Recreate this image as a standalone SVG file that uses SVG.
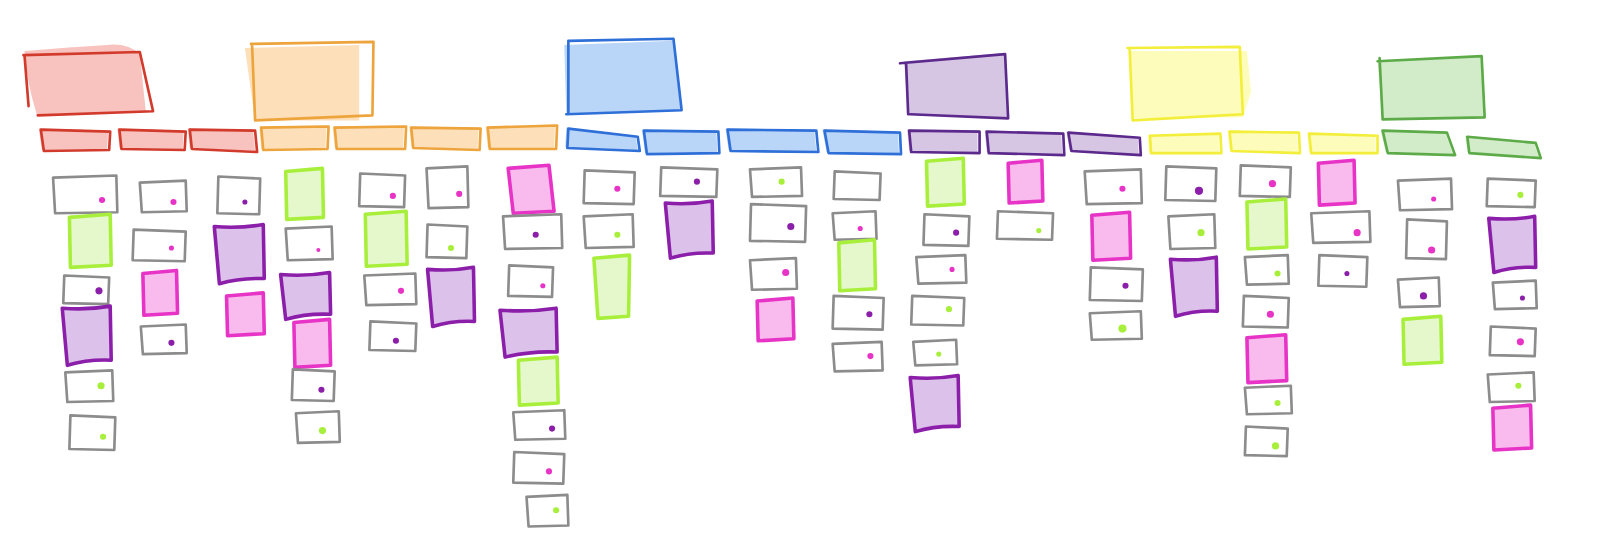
<svg xmlns="http://www.w3.org/2000/svg" width="1600" height="555" viewBox="0 0 1600 555">
<style>
.s{fill:none;stroke-width:2.6;stroke-linejoin:round;stroke-linecap:round}
.hr{stroke:#d23b2c}.fr{fill:#f8c3be}
.ho{stroke:#eda43c}.fo{fill:#fde0ba}
.hb{stroke:#2f6fd8}.fb{fill:#b9d5f8}
.hp{stroke:#5c2a8c}.fp{fill:#d6c5e3}
.hy{stroke:#f3ee3a}.fy{fill:#fdfcba}
.hg{stroke:#5cab48}.fg{fill:#d2ebc8}
.g path{fill:#fff;stroke:#8c8c8c;stroke-width:2.6;stroke-linejoin:round;stroke-linecap:round}
.l path{fill:#e5f8cc;stroke:#a8ef3c;stroke-width:3.5;stroke-linejoin:round;stroke-linecap:round}
.p path{fill:#dcc1ea;stroke:#8c1fa9;stroke-width:3.5;stroke-linejoin:round;stroke-linecap:round}
.k path{fill:#f9bbee;stroke:#e733c6;stroke-width:3.5;stroke-linejoin:round;stroke-linecap:round}
.dk{fill:#e733c6}.dp{fill:#8c1fa9}.dg{fill:#a8ef3c}
</style>
<rect width="1600" height="555" fill="#fff"/>
<g id="diagram" transform="scale(1.0204)">
<g id="connectors"/>
<!-- headers -->
<g id="h-red">
<path class="fr" d="M24,50 Q70,46 105,44 Q125,42 137,53 L143,110 L36,112 Q26,80 24,50 Z"/>
<path class="s hr" d="M23,54 L137,51 L150,109 L37,113 M24,54 L28,104"/>
<path class="fr" transform="translate(-2,-1)" d="M40,127 L108,129 L107,147 L43,148 Z M117,127 L182,129 L181,147 L119,146 Z M186,127 L250,128 L252,149 L188,146 Z"/>
<path class="s hr" d="M40,127 L108,129 L107,147 L43,148 Z M117,127 L182,129 L181,147 L119,146 Z M186,127 L250,128 L252,149 L188,146 Z"/>
</g>
<g id="h-orange">
<path class="fo" d="M240,47 L352,44 L352,118 L250,118 Z"/>
<path class="s ho" d="M246,43 L366,41 L365,113 L250,118 L247,43"/>
<path class="fo" transform="translate(-2,-1)" d="M256,125 L322,124 L321,146 L258,147 Z M328,125 L398,124 L397,146 L330,146 Z M403,125 L471,126 L470,147 L405,145 Z M478,125 L546,123 L545,146 L480,146 Z"/>
<path class="s ho" d="M256,125 L322,124 L321,146 L258,147 Z M328,125 L398,124 L397,146 L330,146 Z M403,125 L471,126 L470,147 L405,145 Z M478,125 L546,123 L545,146 L480,146 Z"/>
</g>
<g id="h-blue">
<path class="fb" d="M553,44 L660,40 L667,108 L555,112 Z"/>
<path class="s hb" d="M557,40 L660,38 L668,108 L555,112 M557,40 L557,110"/>
<path class="fb" transform="translate(-2,-1)" d="M557,126 L625,134 L627,148 L556,145 Z M631,128 L704,129 L705,150 L634,151 Z M713,127 L800,128 L802,149 L716,148 Z M808,128 L882,130 L883,151 L812,150 Z"/>
<path class="s hb" d="M557,126 L625,134 L627,148 L556,145 Z M631,128 L704,129 L705,150 L634,151 Z M713,127 L800,128 L802,149 L716,148 Z M808,128 L882,130 L883,151 L812,150 Z"/>
</g>
<g id="h-purple">
<path class="fp" d="M886,60 L985,52 L988,115 L890,112 Z"/>
<path class="s hp" d="M882,62 L985,53 L988,116 L892,112 M888,62 L890,112"/>
<path class="fp" transform="translate(-2,-1)" d="M891,128 L960,129 L960,150 L893,149 Z M967,129 L1042,131 L1043,152 L969,150 Z M1047,130 L1117,135 L1118,152 L1050,148 Z"/>
<path class="s hp" d="M891,128 L960,129 L960,150 L893,149 Z M967,129 L1042,131 L1043,152 L969,150 Z M1047,130 L1117,135 L1118,152 L1050,148 Z"/>
</g>
<g id="h-yellow">
<path class="fy" d="M1108,50 L1222,50 L1226,90 L1218,115 L1110,116 Z"/>
<path class="s hy" d="M1105,47 L1215,46 L1218,112 L1110,118 M1107,47 L1110,117"/>
<path class="fy" transform="translate(-2,-1)" d="M1127,133 L1196,131 L1197,150 L1128,150 Z M1205,129 L1273,130 L1274,150 L1207,148 Z M1283,131 L1350,133 L1350,150 L1285,150 Z"/>
<path class="s hy" d="M1127,133 L1196,131 L1197,150 L1128,150 Z M1205,129 L1273,130 L1274,150 L1207,148 Z M1283,131 L1350,133 L1350,150 L1285,150 Z"/>
</g>
<g id="h-green">
<path class="fg" d="M1350,60 L1452,55 L1456,115 L1355,117 Z"/>
<path class="s hg" d="M1350,60 L1452,55 L1455,115 L1355,117 M1352,57 L1355,117"/>
<path class="fg" transform="translate(-2,-1)" d="M1355,128 L1418,130 L1426,152 L1360,150 Z M1438,134 L1505,140 L1510,155 L1440,150 Z"/>
<path class="s hg" d="M1355,128 L1418,130 L1426,152 L1360,150 Z M1438,134 L1505,140 L1510,155 L1440,150 Z"/>
</g>
<!-- col 1 -->
<g id="c1a" class="g"><path transform="translate(52,172)" d="M0,2 L62,0 L63,36 L2,37 Z"/><circle class="dk" cx="100" cy="196" r="3"/></g>
<g id="c1b" class="l"><path transform="translate(68,210)" d="M0,3 L40,0 L41,50 L1,52 Z"/></g>
<g id="c1c" class="g"><path transform="translate(62,270)" d="M1,0 L45,2 L44,28 L0,27 Z"/><circle class="dp" cx="97" cy="285" r="3.5"/></g>
<g id="c1d" class="p"><path transform="translate(64,300)" d="M-3,2 Q22,4 44,0 L45,53 Q22,52 2,58 Z"/></g>
<g id="c1e" class="g"><path transform="translate(64,363)" d="M0,2 L46,0 L47,30 L2,31 Z"/><circle class="dg" cx="99" cy="378" r="3.5"/></g>
<g id="c1f" class="g"><path transform="translate(68,407)" d="M1,0 L45,2 L44,34 L0,33 Z"/><circle class="dg" cx="101" cy="428" r="3"/></g>
<!-- col 2 -->
<g id="c2a" class="g"><path transform="translate(137,177)" d="M0,2 L45,0 L46,30 L2,31 Z"/><circle class="dk" cx="170" cy="198" r="3"/></g>
<g id="c2b" class="g"><path transform="translate(130,225)" d="M1,0 L52,2 L51,31 L0,30 Z"/><circle class="dk" cx="168" cy="243" r="2.5"/></g>
<g id="c2c" class="k"><path transform="translate(140,265)" d="M0,3 L33,0 L34,42 L1,44 Z"/></g>
<g id="c2d" class="g"><path transform="translate(138,318)" d="M0,2 L44,0 L45,28 L2,29 Z"/><circle class="dp" cx="168" cy="336" r="3"/></g>
<!-- col 3 -->
<g id="c3a" class="g"><path transform="translate(213,173)" d="M1,0 L42,2 L41,37 L0,36 Z"/><circle class="dp" cx="240" cy="198" r="2.5"/></g>
<g id="c3b" class="p"><path transform="translate(213,220)" d="M-3,2 Q22,4 45,0 L46,53 Q22,52 2,58 Z"/></g>
<g id="c3c" class="k"><path transform="translate(222,287)" d="M0,3 L36,0 L37,40 L1,42 Z"/></g>
<!-- col 4 -->
<g id="c4a" class="l"><path transform="translate(280,165)" d="M0,3 L36,0 L37,48 L1,50 Z"/></g>
<g id="c4b" class="g"><path transform="translate(280,222)" d="M0,2 L45,0 L46,32 L2,33 Z"/><circle class="dk" cx="312" cy="245" r="2"/></g>
<g id="c4c" class="p"><path transform="translate(278,267)" d="M-3,2 Q22,4 45,0 L46,41 Q22,40 2,46 Z"/></g>
<g id="c4d" class="k"><path transform="translate(288,313)" d="M0,3 L35,0 L36,45 L1,47 Z"/></g>
<g id="c4e" class="g"><path transform="translate(286,362)" d="M1,0 L42,2 L41,31 L0,30 Z"/><circle class="dp" cx="315" cy="382" r="3"/></g>
<g id="c4f" class="g"><path transform="translate(290,403)" d="M0,2 L42,0 L43,30 L2,31 Z"/><circle class="dg" cx="316" cy="422" r="3.5"/></g>
<!-- col 5 -->
<g id="c5a" class="g"><path transform="translate(352,170)" d="M1,0 L45,2 L44,33 L0,32 Z"/><circle class="dk" cx="385" cy="192" r="3"/></g>
<g id="c5b" class="l"><path transform="translate(358,207)" d="M0,3 L40,0 L41,52 L1,54 Z"/></g>
<g id="c5c" class="g"><path transform="translate(357,268)" d="M0,2 L50,0 L51,30 L2,31 Z"/><circle class="dk" cx="393" cy="285" r="3"/></g>
<g id="c5d" class="g"><path transform="translate(362,315)" d="M1,0 L46,2 L45,29 L0,28 Z"/><circle class="dp" cx="388" cy="334" r="3"/></g>
<!-- col 6 -->
<g id="c6a" class="g"><path transform="translate(418,163)" d="M0,2 L40,0 L41,40 L2,41 Z"/><circle class="dk" cx="450" cy="190" r="3"/></g>
<g id="c6b" class="g"><path transform="translate(418,220)" d="M1,0 L40,2 L39,33 L0,32 Z"/><circle class="dg" cx="442" cy="243" r="3"/></g>
<g id="c6c" class="p"><path transform="translate(422,262)" d="M-3,2 Q21,4 42,0 L43,53 Q21,52 2,58 Z"/></g>
<!-- col 7 -->
<g id="c7a" class="k"><path transform="translate(498,162)" d="M0,3 L40,0 L45,45 L5,47 Z"/></g>
<g id="c7b" class="g"><path transform="translate(493,210)" d="M0,2 L57,0 L58,33 L2,34 Z"/><circle class="dp" cx="525" cy="230" r="3"/></g>
<g id="c7c" class="g"><path transform="translate(498,260)" d="M1,0 L44,2 L43,31 L0,30 Z"/><circle class="dk" cx="532" cy="280" r="2.5"/></g>
<g id="c7d" class="p"><path transform="translate(493,302)" d="M-3,2 Q26,4 52,0 L53,43 Q26,42 2,48 Z"/></g>
<g id="c7e" class="l"><path transform="translate(508,350)" d="M0,3 L38,0 L39,45 L1,47 Z"/></g>
<g id="c7f" class="g"><path transform="translate(503,402)" d="M0,2 L50,0 L51,28 L2,29 Z"/><circle class="dp" cx="541" cy="420" r="3"/></g>
<g id="c7g" class="g"><path transform="translate(503,443)" d="M1,0 L50,2 L49,31 L0,30 Z"/><circle class="dk" cx="538" cy="462" r="3"/></g>
<g id="c7h" class="g"><path transform="translate(516,485)" d="M0,2 L40,0 L41,30 L2,31 Z"/><circle class="dg" cx="545" cy="500" r="3"/></g>
<!-- col 8 -->
<g id="c8a" class="g"><path transform="translate(572,167)" d="M1,0 L50,2 L49,33 L0,32 Z"/><circle class="dk" cx="605" cy="185" r="3"/></g>
<g id="c8b" class="g"><path transform="translate(572,210)" d="M0,2 L48,0 L49,32 L2,33 Z"/><circle class="dg" cx="605" cy="230" r="3"/></g>
<g id="c8c" class="l"><path transform="translate(582,250)" d="M0,3 L35,0 L34,60 L4,62 Z"/></g>
<!-- col 9 -->
<g id="c9a" class="g"><path transform="translate(647,164)" d="M1,0 L56,2 L55,29 L0,28 Z"/><circle class="dp" cx="683" cy="178" r="3"/></g>
<g id="c9b" class="p"><path transform="translate(655,197)" d="M-3,2 Q21,4 43,0 L44,51 Q21,50 2,56 Z"/></g>
<!-- col 10 -->
<g id="c10a" class="g"><path transform="translate(735,164)" d="M0,2 L50,0 L51,28 L2,29 Z"/><circle class="dg" cx="766" cy="178" r="3"/></g>
<g id="c10b" class="g"><path transform="translate(735,200)" d="M1,0 L55,2 L54,37 L0,36 Z"/><circle class="dp" cx="775" cy="222" r="3.5"/></g>
<g id="c10c" class="g"><path transform="translate(735,253)" d="M0,2 L45,0 L46,30 L2,31 Z"/><circle class="dk" cx="770" cy="267" r="3.5"/></g>
<g id="c10d" class="k"><path transform="translate(742,292)" d="M0,3 L35,0 L36,40 L1,42 Z"/></g>
<!-- col 11 -->
<g id="c11a" class="g"><path transform="translate(817,168)" d="M1,0 L46,2 L45,28 L0,27 Z"/></g>
<g id="c11b" class="g"><path transform="translate(816,207)" d="M0,2 L42,0 L43,27 L2,28 Z"/><circle class="dk" cx="843" cy="224" r="2.5"/></g>
<g id="c11c" class="l"><path transform="translate(822,235)" d="M0,3 L35,0 L36,48 L1,50 Z"/></g>
<g id="c11d" class="g"><path transform="translate(816,290)" d="M1,0 L50,2 L49,33 L0,32 Z"/><circle class="dp" cx="852" cy="308" r="3"/></g>
<g id="c11e" class="g"><path transform="translate(816,335)" d="M0,2 L48,0 L49,28 L2,29 Z"/><circle class="dk" cx="853" cy="349" r="3"/></g>
<!-- col 12 -->
<g id="c12a" class="l"><path transform="translate(908,155)" d="M0,3 L36,0 L37,45 L1,47 Z"/></g>
<g id="c12b" class="g"><path transform="translate(905,210)" d="M1,0 L45,2 L44,31 L0,30 Z"/><circle class="dp" cx="937" cy="228" r="3"/></g>
<g id="c12c" class="g"><path transform="translate(898,250)" d="M0,2 L48,0 L49,27 L2,28 Z"/><circle class="dk" cx="933" cy="264" r="2.5"/></g>
<g id="c12d" class="g"><path transform="translate(893,290)" d="M1,0 L52,2 L51,29 L0,28 Z"/><circle class="dg" cx="930" cy="303" r="3"/></g>
<g id="c12e" class="g"><path transform="translate(895,333)" d="M0,2 L42,0 L43,24 L2,25 Z"/><circle class="dg" cx="920" cy="347" r="2.5"/></g>
<g id="c12f" class="p"><path transform="translate(895,368)" d="M-3,2 Q22,4 44,0 L45,50 Q22,49 2,55 Z"/></g>
<!-- col 13 -->
<g id="c13a" class="k"><path transform="translate(988,157)" d="M0,3 L33,0 L34,40 L1,42 Z"/></g>
<g id="c13b" class="g"><path transform="translate(977,207)" d="M1,0 L55,2 L54,28 L0,27 Z"/><circle class="dg" cx="1018" cy="226" r="2.5"/></g>
<!-- col 14 -->
<g id="c14a" class="g"><path transform="translate(1063,166)" d="M0,2 L55,0 L56,33 L2,34 Z"/><circle class="dk" cx="1100" cy="185" r="3"/></g>
<g id="c14b" class="k"><path transform="translate(1070,208)" d="M0,3 L37,0 L38,45 L1,47 Z"/></g>
<g id="c14c" class="g"><path transform="translate(1068,262)" d="M1,0 L52,2 L51,33 L0,32 Z"/><circle class="dp" cx="1103" cy="280" r="3"/></g>
<g id="c14d" class="g"><path transform="translate(1068,305)" d="M0,2 L50,0 L51,27 L2,28 Z"/><circle class="dg" cx="1100" cy="322" r="4"/></g>
<!-- col 15 -->
<g id="c15a" class="g"><path transform="translate(1142,163)" d="M1,0 L50,2 L49,34 L0,33 Z"/><circle class="dp" cx="1175" cy="187" r="4"/></g>
<g id="c15b" class="g"><path transform="translate(1145,210)" d="M0,2 L45,0 L46,33 L2,34 Z"/><circle class="dg" cx="1177" cy="228" r="3.5"/></g>
<g id="c15c" class="p"><path transform="translate(1150,252)" d="M-3,2 Q21,4 42,0 L43,53 Q21,52 2,58 Z"/></g>
<!-- col 16 -->
<g id="c16a" class="g"><path transform="translate(1215,162)" d="M1,0 L50,2 L49,31 L0,30 Z"/><circle class="dk" cx="1247" cy="180" r="3.5"/></g>
<g id="c16b" class="l"><path transform="translate(1222,195)" d="M0,3 L38,0 L39,47 L1,49 Z"/></g>
<g id="c16c" class="g"><path transform="translate(1220,250)" d="M0,2 L42,0 L43,28 L2,29 Z"/><circle class="dg" cx="1252" cy="268" r="3"/></g>
<g id="c16d" class="g"><path transform="translate(1218,290)" d="M1,0 L45,2 L44,31 L0,30 Z"/><circle class="dk" cx="1245" cy="308" r="3.5"/></g>
<g id="c16e" class="k"><path transform="translate(1222,328)" d="M0,3 L38,0 L39,45 L1,47 Z"/></g>
<g id="c16f" class="g"><path transform="translate(1220,378)" d="M0,2 L45,0 L46,27 L2,28 Z"/><circle class="dg" cx="1252" cy="395" r="3"/></g>
<g id="c16g" class="g"><path transform="translate(1220,418)" d="M1,0 L42,2 L41,29 L0,28 Z"/><circle class="dg" cx="1250" cy="437" r="3.5"/></g>
<!-- col 17 -->
<g id="c17a" class="k"><path transform="translate(1292,157)" d="M0,3 L35,0 L36,42 L1,44 Z"/></g>
<g id="c17b" class="g"><path transform="translate(1285,207)" d="M0,2 L57,0 L58,30 L2,31 Z"/><circle class="dk" cx="1330" cy="228" r="3.5"/></g>
<g id="c17c" class="g"><path transform="translate(1292,250)" d="M1,0 L48,2 L47,31 L0,30 Z"/><circle class="dp" cx="1320" cy="268" r="2.5"/></g>
<!-- col 18 -->
<g id="c18a" class="g"><path transform="translate(1370,175)" d="M0,2 L52,0 L53,30 L2,31 Z"/><circle class="dk" cx="1405" cy="195" r="2.5"/></g>
<g id="c18b" class="g"><path transform="translate(1378,215)" d="M1,0 L40,2 L39,39 L0,38 Z"/><circle class="dk" cx="1403" cy="245" r="3.5"/></g>
<g id="c18c" class="g"><path transform="translate(1370,272)" d="M0,2 L40,0 L41,28 L2,29 Z"/><circle class="dp" cx="1395" cy="290" r="3.5"/></g>
<g id="c18d" class="l"><path transform="translate(1375,310)" d="M0,3 L37,0 L38,45 L1,47 Z"/></g>
<!-- col 19 -->
<g id="c19a" class="g"><path transform="translate(1457,175)" d="M1,0 L48,2 L47,28 L0,27 Z"/><circle class="dg" cx="1490" cy="191" r="3"/></g>
<g id="c19b" class="p"><path transform="translate(1462,212)" d="M-3,2 Q21,4 42,0 L43,50 Q21,49 2,55 Z"/></g>
<g id="c19c" class="g"><path transform="translate(1463,275)" d="M0,2 L42,0 L43,27 L2,28 Z"/><circle class="dp" cx="1492" cy="292" r="2.5"/></g>
<g id="c19d" class="g"><path transform="translate(1460,320)" d="M1,0 L45,2 L44,29 L0,28 Z"/><circle class="dk" cx="1490" cy="335" r="3.5"/></g>
<g id="c19e" class="g"><path transform="translate(1458,365)" d="M0,2 L45,0 L46,28 L2,29 Z"/><circle class="dg" cx="1488" cy="378" r="3"/></g>
<g id="c19f" class="k"><path transform="translate(1463,397)" d="M0,3 L37,0 L38,42 L1,44 Z"/></g>
</g>
</svg>
